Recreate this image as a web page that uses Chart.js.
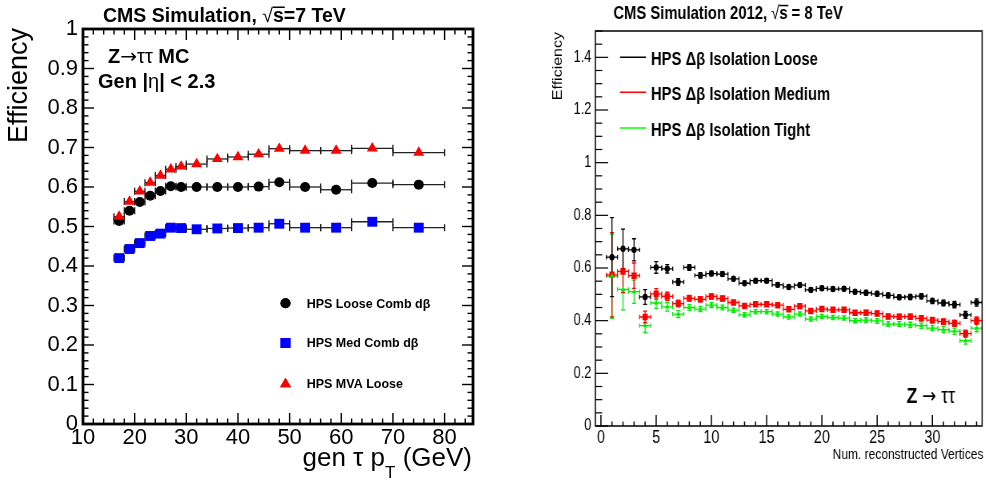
<!DOCTYPE html>
<html><head><meta charset="utf-8">
<script src="https://cdn.jsdelivr.net/npm/chart.js@4.4.1/dist/chart.umd.min.js"></script>
<style>
html,body{margin:0;padding:0;background:#fff;}
#wrap{position:relative;width:986px;height:484px;overflow:hidden;background:#fff;}
#p1{position:absolute;left:0;top:0;width:493px;height:484px;}
#p2{position:absolute;left:493px;top:0;width:616px;height:484px;transform:scaleX(0.8);transform-origin:0 0;}
canvas{display:block;}
</style></head><body>
<div id="wrap">
  <div id="p1"><canvas id="c1" width="493" height="484"></canvas></div>
  <div id="p2"><canvas id="c2" width="616" height="484"></canvas></div>
</div>
<script>
// ---------------- LEFT PANEL DATA (efficiency vs gen tau pT) ----------------
const ptBinCenters = [17,19,21,23,25,27,29,32,36,40,44,48,53,59,66,75];
const ptBinLow     = [16,18,20,22,24,26,28,30,34,38,42,46,50,56,62,70];
const ptBinHigh    = [18,20,22,24,26,28,30,34,38,42,46,50,56,62,70,80];
const effLooseComb = [0.514,0.540,0.562,0.578,0.590,0.602,0.600,0.600,0.600,0.600,0.601,0.612,0.600,0.593,0.610,0.606];
const effMedComb   = [0.420,0.443,0.458,0.476,0.482,0.497,0.496,0.493,0.495,0.496,0.497,0.507,0.497,0.497,0.512,0.497];
const effMvaLoose  = [0.525,0.563,0.589,0.611,0.629,0.645,0.652,0.658,0.671,0.676,0.683,0.697,0.692,0.692,0.698,0.687];
const leftSeriesLabels = ['HPS Loose Comb d\u03B2','HPS Med Comb d\u03B2','HPS MVA Loose'];
const leftXTicks = [10,20,30,40,50,60,70,80];
const leftYTicks = [0,0.1,0.2,0.3,0.4,0.5,0.6,0.7,0.8,0.9,1];
const leftYTickLabels = ['0','0.1','0.2','0.3','0.4','0.5','0.6','0.7','0.8','0.9','1'];

// ---------------- RIGHT PANEL DATA (efficiency vs number of vertices) ----------------
const nVtx = [1,2,3,4,5,6,7,8,9,10,11,12,13,14,15,16,17,18,19,20,21,22,23,24,25,26,27,28,29,30,31,32,33,34];
const effIsoLoose  = [0.641,0.673,0.669,0.490,0.602,0.597,0.547,0.602,0.572,0.579,0.577,0.559,0.542,0.552,0.552,0.536,0.528,0.535,0.517,0.523,0.520,0.521,0.510,0.506,0.502,0.496,0.489,0.490,0.493,0.475,0.467,0.461,0.422,0.469];
const effIsoMedium = [0.574,0.587,0.571,0.414,0.502,0.492,0.465,0.485,0.481,0.492,0.484,0.469,0.456,0.462,0.462,0.459,0.443,0.455,0.437,0.444,0.441,0.441,0.430,0.430,0.427,0.416,0.415,0.415,0.409,0.402,0.396,0.390,0.351,0.400];
const effIsoTight  = [0.569,0.519,0.510,0.381,0.467,0.452,0.425,0.450,0.444,0.459,0.450,0.440,0.422,0.434,0.434,0.425,0.414,0.425,0.406,0.416,0.412,0.410,0.400,0.402,0.399,0.387,0.387,0.384,0.381,0.372,0.366,0.360,0.324,0.372];
const errIsoLoose  = [0.150,0.075,0.042,0.028,0.022,0.016,0.013,0.011,0.010,0.009,0.009,0.008,0.008,0.008,0.008,0.008,0.008,0.008,0.008,0.008,0.008,0.008,0.008,0.009,0.009,0.009,0.009,0.010,0.010,0.010,0.011,0.012,0.013,0.014];
const errIsoMedium = [0.160,0.080,0.048,0.022,0.020,0.016,0.013,0.011,0.010,0.009,0.009,0.008,0.008,0.008,0.008,0.008,0.008,0.008,0.008,0.008,0.008,0.008,0.008,0.009,0.009,0.009,0.009,0.010,0.010,0.010,0.011,0.012,0.013,0.014];
const errIsoTight  = [0.160,0.078,0.044,0.026,0.020,0.016,0.013,0.011,0.010,0.009,0.009,0.008,0.008,0.008,0.008,0.008,0.008,0.008,0.008,0.008,0.008,0.008,0.008,0.009,0.009,0.009,0.009,0.010,0.010,0.010,0.011,0.012,0.013,0.014];
const rightSeriesLabels = ['HPS \u0394\u03B2 Isolation Loose','HPS \u0394\u03B2 Isolation Medium','HPS \u0394\u03B2 Isolation Tight'];
const rightXTicks = [0,5,10,15,20,25,30];
const rightYTicks = [0,0.2,0.4,0.6,0.8,1,1.2,1.4];
const rightYTickLabels = ['0','0.2','0.4','0.6','0.8','1','1.2','1.4'];

// ---------------- helpers ----------------
const FONT = '"Liberation Sans", Arial, Helvetica, sans-serif';
const SYM = '"DejaVu Sans", "Liberation Sans", sans-serif';
const pts = (xs, ys) => xs.map((x, i) => ({x: x, y: ys[i]}));

function drawRuns(ctx, x, y, runs, align) {
  let total = 0;
  runs.forEach(r => { ctx.font = r.font; r.w = ctx.measureText(r.t).width; total += r.w; });
  let cx = align === 'right' ? x - total : x;
  ctx.textAlign = 'left'; ctx.textBaseline = 'alphabetic';
  runs.forEach(r => {
    ctx.font = r.font;
    ctx.fillText(r.t, cx, y + (r.dy || 0));
    if (r.over !== undefined) ctx.fillRect(cx, y + r.over, r.w + 1, r.overW || 1.5);
    cx += r.w;
  });
}

const errorBarPlugin = {
  id: 'errbars',
  beforeDatasetsDraw(chart) {
    const ctx = chart.ctx, xs = chart.scales.x, ys = chart.scales.y, a = chart.chartArea;
    ctx.save();
    ctx.beginPath(); ctx.rect(a.left, a.top, a.width, a.height); ctx.clip();
    const seg = (x1, y1, x2, y2) => { ctx.beginPath(); ctx.moveTo(x1, y1); ctx.lineTo(x2, y2); ctx.stroke(); };
    chart.data.datasets.forEach(ds => {
      const e = ds.errSpec; if (!e) return;
      ctx.strokeStyle = e.color; ctx.lineWidth = e.width;
      ds.data.forEach((p, i) => {
        const px = xs.getPixelForValue(p.x), py = ys.getPixelForValue(p.y);
        const lo = e.xLow ? e.xLow[i] : p.x - e.xHalf;
        const hi = e.xHigh ? e.xHigh[i] : p.x + e.xHalf;
        const xl = xs.getPixelForValue(lo), xh = xs.getPixelForValue(hi);
        seg(xl, py, xh, py);
        seg(xl, py - e.capX, xl, py + e.capX);
        seg(xh, py - e.capX, xh, py + e.capX);
        if (e.yErr) {
          const yl = ys.getPixelForValue(p.y - e.yErr[i]), yh = ys.getPixelForValue(p.y + e.yErr[i]);
          seg(px, yl, px, yh);
          seg(px - e.capY, yl, px + e.capY, yl);
          seg(px - e.capY, yh, px + e.capY, yh);
        }
      });
    });
    ctx.restore();
  }
};

function framePlugin(o) {
  return {
    id: 'frameTicks',
    afterDatasetsDraw(chart) {
      const ctx = chart.ctx, a = chart.chartArea, x = chart.scales.x, y = chart.scales.y;
      ctx.save();
      ctx.strokeStyle = '#000';
      const seg = (x1, y1, x2, y2) => { ctx.beginPath(); ctx.moveTo(x1, y1); ctx.lineTo(x2, y2); ctx.stroke(); };
      const vals = (sc, step) => { const out = []; const k0 = Math.ceil((sc.min - 1e-9) / step); for (let k = k0; k * step <= sc.max + 1e-9; k++) out.push(k * step); return out; };
      const isMajor = (sc, v) => sc.ticks.some(t => Math.abs(t.value - v) < 1e-6);
      ctx.lineWidth = o.tickWx;
      vals(x, o.xMinor).forEach(v => {
        const px = x.getPixelForValue(v);
        const L = isMajor(x, v) ? o.xMajorLen : o.xMinorLen;
        seg(px, a.bottom, px, a.bottom - L);
        if (o.mirror) seg(px, a.top, px, a.top + L);
      });
      ctx.lineWidth = o.tickWy;
      vals(y, o.yMinor).forEach(v => {
        const py = y.getPixelForValue(v);
        const L = isMajor(y, v) ? o.yMajorLen : o.yMinorLen;
        seg(a.left, py, a.left + L, py);
        if (o.mirror) seg(a.right, py, a.right - L, py);
      });
      ctx.lineWidth = o.frameW;
      ctx.strokeRect(a.left, a.top, a.width, a.height);
      ctx.restore();
    }
  };
}

// ---------------- LEFT CHART ----------------
const leftText = {
  id: 'leftText',
  afterDraw(chart) {
    const ctx = chart.ctx;
    ctx.save();
    ctx.fillStyle = '#000';
    // title
    drawRuns(ctx, 103, 21.5, [
      {t: 'CMS Simulation, ', font: 'bold 19.5px ' + FONT},
      {t: '\u221A', font: '19.5px ' + FONT},
      {t: 's', font: 'bold 19.5px ' + FONT, over: -15, overW: 1.5},
      {t: '=7 TeV', font: 'bold 19.5px ' + FONT}
    ]);
    // y title
    ctx.save();
    ctx.translate(26.5, 28);
    ctx.rotate(-Math.PI / 2);
    ctx.font = '27px ' + FONT; ctx.textAlign = 'right'; ctx.textBaseline = 'alphabetic';
    ctx.fillText('Efficiency', 0, 0);
    ctx.restore();
    // x title
    drawRuns(ctx, 472, 466, [
      {t: 'gen \u03C4 p', font: '26px ' + FONT},
      {t: 'T', font: '17px ' + FONT, dy: 12},
      {t: ' (GeV)', font: '26px ' + FONT}
    ], 'right');
    // annotation
    drawRuns(ctx, 108, 63.3, [
      {t: 'Z', font: 'bold 20px ' + FONT},
      {t: '\u2192', font: '20px ' + SYM},
      {t: '\u03C4\u03C4', font: '20px ' + FONT},
      {t: ' MC', font: 'bold 20px ' + FONT}
    ]);
    drawRuns(ctx, 98, 87.5, [
      {t: 'Gen |', font: 'bold 20px ' + FONT},
      {t: '\u03B7', font: '20px ' + FONT},
      {t: '| < 2.3', font: 'bold 20px ' + FONT}
    ]);
    // legend
    const ly = [303.3, 343, 384];
    const styles = [
      {s: 'circle', c: '#000', r: 5},
      {s: 'rect', c: '#0000ff', r: 7},
      {s: 'triangle', c: '#ff0000', r: 6.3}
    ];
    styles.forEach((st, i) => {
      ctx.fillStyle = st.c;
      Chart.helpers.drawPoint(ctx, {pointStyle: st.s, radius: st.r, borderWidth: 0, rotation: 0}, 285.5, ly[i]);
      ctx.fill();
      ctx.fillStyle = '#000';
      ctx.font = 'bold 12.5px ' + FONT; ctx.textAlign = 'left'; ctx.textBaseline = 'alphabetic';
      ctx.fillText(leftSeriesLabels[i], 306.7, ly[i] + 4.3);
    });
    ctx.restore();
  }
};

new Chart(document.getElementById('c1'), {
  type: 'scatter',
  data: {
    datasets: [
      {label: leftSeriesLabels[2], data: pts(ptBinCenters, effMvaLoose), order: 0,
       pointStyle: 'triangle', pointRadius: 6.3, backgroundColor: '#ff0000', borderColor: '#ff0000', pointBorderWidth: 0,
       errSpec: {xLow: ptBinLow, xHigh: ptBinHigh, color: '#222', width: 1.3, capX: 3.5}},
      {label: leftSeriesLabels[1], data: pts(ptBinCenters, effMedComb), order: 1,
       pointStyle: 'rect', pointRadius: 7, backgroundColor: '#0000ff', borderColor: '#0000ff', pointBorderWidth: 0,
       errSpec: {xLow: ptBinLow, xHigh: ptBinHigh, color: '#222', width: 1.3, capX: 3.5}},
      {label: leftSeriesLabels[0], data: pts(ptBinCenters, effLooseComb), order: 2,
       pointStyle: 'circle', pointRadius: 5, backgroundColor: '#000', borderColor: '#000', pointBorderWidth: 0,
       errSpec: {xLow: ptBinLow, xHigh: ptBinHigh, color: '#222', width: 1.3, capX: 3.5}}
    ]
  },
  options: {
    responsive: false, animation: false, events: [],
    layout: {padding: {left: 0, right: 20, top: 29, bottom: 0}},
    plugins: {legend: {display: false}, tooltip: {enabled: false}},
    scales: {
      x: {type: 'linear', min: 10, max: 85.5,
          grid: {display: false, drawTicks: false}, border: {display: false},
          ticks: {color: '#000', font: {family: FONT, size: 22}, padding: 1, maxRotation: 0, autoSkip: false},
          afterBuildTicks: s => { s.ticks = leftXTicks.map(v => ({value: v})); },
          afterFit: s => { s.height = 60; }},
      y: {type: 'linear', min: 0, max: 1,
          grid: {display: false, drawTicks: false}, border: {display: false},
          ticks: {color: '#000', font: {family: FONT, size: 22}, padding: 5, autoSkip: false,
                  callback: (v, i) => leftYTickLabels[i]},
          afterBuildTicks: s => { s.ticks = leftYTicks.map(v => ({value: v})); },
          afterFit: s => { s.width = 83; }}
    }
  },
  plugins: [errorBarPlugin,
            framePlugin({mirror: true, xMinor: 2, yMinor: 0.02, xMajorLen: 11, xMinorLen: 5.5, yMajorLen: 11, yMinorLen: 5.5,
                         tickWx: 1.4, tickWy: 1.4, frameW: 2.8}),
            leftText]
});

// ---------------- RIGHT CHART (drawn 1.25x wide, shown compressed to 0.8) ----------------
const rightText = {
  id: 'rightText',
  afterDraw(chart) {
    const ctx = chart.ctx;
    ctx.save();
    ctx.fillStyle = '#000';
    drawRuns(ctx, 150.4, 19.3, [
      {t: 'CMS Simulation 2012, ', font: 'bold 18.5px ' + FONT},
      {t: '\u221A', font: '18.5px ' + FONT},
      {t: 's', font: 'bold 18.5px ' + FONT, over: -14.5, overW: 1.5},
      {t: ' = 8 TeV', font: 'bold 18.5px ' + FONT}
    ]);
    // y title
    ctx.save();
    ctx.translate(86.3, 32);
    ctx.rotate(-Math.PI / 2);
    ctx.font = '16px ' + FONT; ctx.textAlign = 'right'; ctx.textBaseline = 'alphabetic';
    ctx.fillText('Efficiency', 0, 0);
    ctx.restore();
    // x title
    ctx.font = '15px ' + FONT; ctx.textAlign = 'right'; ctx.textBaseline = 'alphabetic';
    ctx.fillText('Num. reconstructed Vertices', 613, 459.3);
    // annotation
    drawRuns(ctx, 517, 402.7, [
      {t: 'Z ', font: 'bold 22px ' + FONT},
      {t: '\u2192', font: '21px ' + SYM},
      {t: ' \u03C4\u03C4', font: '22px ' + FONT}
    ]);
    // legend
    const cols = ['#000000', '#ff0000', '#00ff00'];
    const ly = [57.3, 92.3, 128];
    cols.forEach((c, i) => {
      ctx.strokeStyle = c; ctx.lineWidth = 1.6;
      ctx.beginPath(); ctx.moveTo(158.75, ly[i]); ctx.lineTo(191.25, ly[i]); ctx.stroke();
      ctx.fillStyle = '#000';
      ctx.font = 'bold 18.5px ' + FONT; ctx.textAlign = 'left'; ctx.textBaseline = 'alphabetic';
      ctx.fillText(rightSeriesLabels[i], 197.5, ly[i] + 7.7);
    });
    ctx.restore();
  }
};

new Chart(document.getElementById('c2'), {
  type: 'scatter',
  data: {
    datasets: [
      {label: rightSeriesLabels[2], data: pts(nVtx, effIsoTight), order: 0,
       pointStyle: 'triangle', pointRadius: 3.2, backgroundColor: '#00ee00', borderColor: '#00ee00', pointBorderWidth: 0,
       errSpec: {xHalf: 0.5, yErr: errIsoTight, color: '#00ee00', width: 1.3, capX: 2.2, capY: 2.5}},
      {label: rightSeriesLabels[1], data: pts(nVtx, effIsoMedium), order: 1,
       pointStyle: 'rect', pointRadius: 4.6, backgroundColor: '#ff0000', borderColor: '#ff0000', pointBorderWidth: 0,
       errSpec: {xHalf: 0.5, yErr: errIsoMedium, color: '#ff0000', width: 1.3, capX: 2.2, capY: 2.5}},
      {label: rightSeriesLabels[0], data: pts(nVtx, effIsoLoose), order: 2,
       pointStyle: 'circle', pointRadius: 3.2, backgroundColor: '#000', borderColor: '#000', pointBorderWidth: 0,
       errSpec: {xHalf: 0.5, yErr: errIsoLoose, color: '#000', width: 1.3, capX: 2.2, capY: 2.5}}
    ]
  },
  options: {
    responsive: false, animation: false, events: [],
    layout: {padding: {left: 0, right: 1, top: 31, bottom: 0}},
    plugins: {legend: {display: false}, tooltip: {enabled: false}},
    scales: {
      x: {type: 'linear', min: -0.5, max: 34.5,
          grid: {display: false, drawTicks: false}, border: {display: false},
          ticks: {color: '#000', font: {family: FONT, size: 18}, padding: 1, maxRotation: 0, autoSkip: false},
          afterBuildTicks: s => { s.ticks = rightXTicks.map(v => ({value: v})); },
          afterFit: s => { s.height = 58; }},
      y: {type: 'linear', min: 0, max: 1.5,
          grid: {display: false, drawTicks: false}, border: {display: false},
          ticks: {color: '#000', font: {family: FONT, size: 16}, padding: 5, autoSkip: false,
                  callback: (v, i) => rightYTickLabels[i]},
          afterBuildTicks: s => { s.ticks = rightYTicks.map(v => ({value: v})); },
          afterFit: s => { s.width = 128; }}
    }
  },
  plugins: [errorBarPlugin,
            framePlugin({mirror: false, xMinor: 1, yMinor: 0.05, xMajorLen: 11, xMinorLen: 4.5, yMajorLen: 16, yMinorLen: 8.5,
                         tickWx: 1.5, tickWy: 1.2, frameW: 1.5}),
            rightText]
});
</script>
</body></html>
